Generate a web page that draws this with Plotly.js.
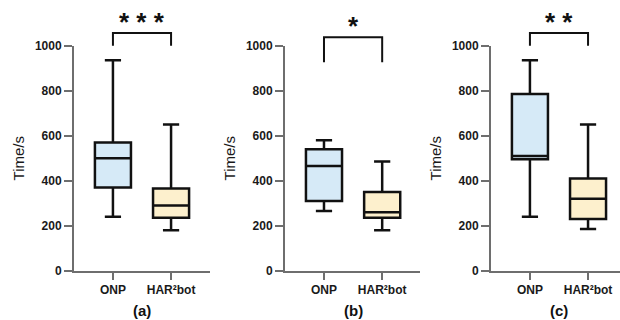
<!DOCTYPE html>
<html>
<head>
<meta charset="utf-8">
<script src="https://cdn.plot.ly/plotly-3.0.1.min.js"></script>
<style>html,body{margin:0;padding:0;background:#fff;}#chart{width:620px;height:320px;}</style>
</head>
<body>
<div id="chart"></div>
<script>
// ---- data ----
var categories = ['ONP', 'HAR²bot'];
var panelLabels = ['(a)', '(b)', '(c)'];
var sigStars = ['* * *', '*', '* *'];

// per panel: [ONP, HAR2bot]
var lowerA = [240, 180], q1A = [370, 235], medA = [500, 290], q3A = [570, 365], upperA = [935, 650];
var lowerB = [265, 180], q1B = [310, 235], medB = [465, 260], q3B = [540, 350], upperB = [580, 485];
var lowerC = [240, 185], q1C = [495, 230], medC = [510, 320], q3C = [785, 410], upperC = [935, 650];

// bracket heights (top line, leg bottoms) per panel
var bracketTop = [1056, 1038, 1056];
var bracketLeg = [1000, 927, 1000];

var yTicks = [0, 200, 400, 600, 800, 1000];

// ---- styling ----
var fills = ['#d6eaf7', '#fdf0cd'];
var axisGray = '#6e6e6e';
var font = '"Liberation Sans", Arial, Helvetica, sans-serif';

var panels = [
  {lower: lowerA, q1: q1A, med: medA, q3: q3A, upper: upperA},
  {lower: lowerB, q1: q1B, med: medB, q3: q3B, upper: upperB},
  {lower: lowerC, q1: q1C, med: medC, q3: q3C, upper: upperC}
];
var xDomains = [[74/620, 210/620], [285/620, 420/620], [491/620, 1]];
var xRanges = [[-0.67, 1.67], [-0.67, 1.65], [-0.67, 1.55]];
var yDomain = [(320-270.7)/320, (320-45.7)/320];
var yRange = [0, 1000];

var data = [];
var layout = {
  width: 620, height: 320,
  margin: {l: 0, r: 0, t: 0, b: 0},
  paper_bgcolor: '#fff', plot_bgcolor: '#fff',
  showlegend: false,
  boxmode: 'overlay',
  font: {family: font, color: '#1a1a1a'},
  shapes: [], annotations: []
};

panels.forEach(function (p, i) {
  var sfx = i === 0 ? '' : String(i + 1);
  for (var k = 0; k < categories.length; k++) {
    data.push({
      type: 'box',
      x: [categories[k]],
      lowerfence: [p.lower[k]], q1: [p.q1[k]], median: [p.med[k]],
      q3: [p.q3[k]], upperfence: [p.upper[k]],
      xaxis: 'x' + sfx, yaxis: 'y' + sfx,
      fillcolor: fills[k],
      line: {color: '#111', width: 2.5},
      width: 0.62, whiskerwidth: 0.45,
      boxpoints: false, hoverinfo: 'skip'
    });
  }
  layout['xaxis' + sfx] = {
    domain: xDomains[i], anchor: 'y' + sfx,
    type: 'category', categoryorder: 'array', categoryarray: categories,
    range: xRanges[i], fixedrange: true,
    showline: true, linecolor: axisGray, linewidth: 2,
    ticks: 'outside', ticklen: 7, tickwidth: 2, tickcolor: axisGray,
    showgrid: false, zeroline: false,
    tickfont: {family: font, size: 12, color: '#1a1a1a', weight: 'bold'}
  };
  layout['yaxis' + sfx] = {
    domain: yDomain, anchor: 'x' + sfx,
    range: yRange, fixedrange: true,
    tickvals: yTicks, ticktext: yTicks.map(String),
    showline: true, linecolor: axisGray, linewidth: 2,
    ticks: 'outside', ticklen: 8, tickwidth: 2, tickcolor: axisGray,
    showgrid: false, zeroline: false,
    tickfont: {family: font, size: 12, color: '#1a1a1a', weight: 'bold'},
    title: {text: 'Time/s', standoff: 7, font: {family: font, size: 15, color: '#1a1a1a'}}
  };

  // significance bracket, positioned through the axis ranges
  var xr = xRanges[i];
  var fx = function (c) { return (c - xr[0]) / (xr[1] - xr[0]); };
  var fy = function (v) { return (v - yRange[0]) / (yRange[1] - yRange[0]); };
  var x0 = fx(0), x1 = fx(1), yt = fy(bracketTop[i]), yl = fy(bracketLeg[i]);
  layout.shapes.push({
    type: 'path', xref: 'x' + sfx + ' domain', yref: 'y' + sfx + ' domain',
    path: 'M' + x0 + ',' + yl + ' L' + x0 + ',' + yt + ' L' + x1 + ',' + yt + ' L' + x1 + ',' + yl,
    line: {color: '#111', width: 2}
  });
  layout.annotations.push({
    xref: 'x' + sfx + ' domain', yref: 'y' + sfx + ' domain', x: fx(0.5), y: yt - 0.024,
    yanchor: 'bottom', xanchor: 'center', showarrow: false,
    text: sigStars[i], font: {family: font, size: 26, color: '#111', weight: 'bold'}
  });
  layout.annotations.push({
    xref: 'x' + sfx, yref: 'paper', x: 0.5, y: (320 - 310) / 320,
    yanchor: 'middle', xanchor: 'center', showarrow: false,
    text: panelLabels[i], font: {family: font, size: 15, color: '#111', weight: 'bold'}
  });
});

Plotly.newPlot('chart', data, layout, {staticPlot: true, displayModeBar: false});
</script>
</body>
</html>
